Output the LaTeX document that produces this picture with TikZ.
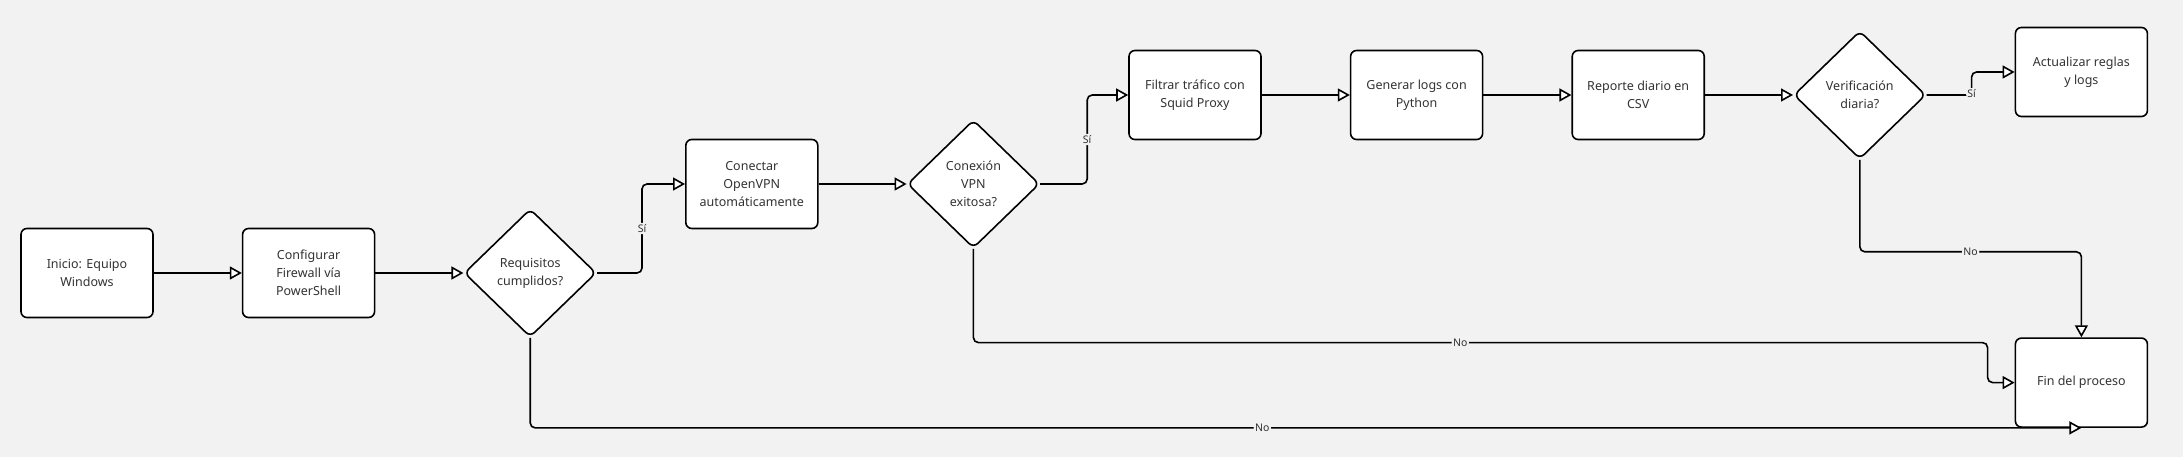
\documentclass[tikz,border=0pt]{standalone}
\usepackage{fontspec}
\setmainfont{Noto Sans}
\usepackage{tikz}
\usetikzlibrary{arrows.meta}
\usetikzlibrary{calc}
\usetikzlibrary{positioning,shapes.geometric}
\definecolor{canvas}{HTML}{F2F2F2}
\definecolor{inkgray}{HTML}{333333}
\tikzset{
    flow box/.style={
        draw,
        fill=white,
        line width=1.6pt,
        rounded corners=6pt,
        align=center,
        minimum width=132pt,
        minimum height=89pt,
        text=inkgray,
        font=\fontsize{12.5}{18}\selectfont
    },
    flow diamond/.style={
        flow box,
        diamond,
        minimum width=132pt,
        minimum height=128pt,
        inner sep=0pt
    },
    flow arrow/.style={
        line width=1.6pt,
        rounded corners=5pt,
        -{Triangle[open,fill=white,length=12pt,width=13pt]}
    },
    edge label/.style={
        fill=canvas,
        inner sep=1.5pt,
        text=inkgray,
        font=\fontsize{10.5}{12}\selectfont
    }
}
\begin{document}
\begin{tikzpicture}[x=1pt,y=1pt,node distance=88pt]
            \fill[canvas] (0,0) rectangle (2183,457);
            \useasboundingbox (0,0) rectangle (2183,457);
            \node[flow box] (ini) at (87,184) {Inicio: Equipo\\Windows};
            \node[flow box,right=of ini] (cfg) {Configurar\\Firewall vía\\PowerShell};
            \node[flow diamond,right=of cfg] (req) {Requisitos\\cumplidos?};
            \node[flow box,right=of req,yshift=89pt] (con) {Conectar\\OpenVPN\\automáticamente};
            \node[flow diamond,right=of con] (vpn) {Conexión\\VPN\\exitosa?};
            \node[flow box,right=of vpn,yshift=89pt] (fil) {Filtrar tráfico con\\Squid Proxy};
            \node[flow box,right=of fil] (gen) {Generar logs con\\Python};
            \node[flow box,right=of gen] (rep) {Reporte diario en\\CSV};
            \node[flow diamond,right=of rep] (ver) {Verificación\\diaria?};
            \node[flow box,right=of ver,yshift=23pt] (act) {Actualizar reglas\\y logs};
            \node[flow box,below=220pt of act] (fin) {Fin del proceso};
            \foreach \s/\t in {ini/cfg,cfg/req,con/vpn,fil/gen,gen/rep,rep/ver}
              \draw[flow arrow] (\s) -- (\t);
            % Si branches
            \draw[flow arrow] (req.east) -- ++(45,0) |- node[edge label,pos=0.25] {Sí} (con.west);
            \draw[flow arrow] (vpn.east) -- ++(47,0) |- node[edge label,pos=0.25] {Sí} (fil.west);
            \draw[flow arrow] (ver.east) -- ++(45,0) |- node[edge label,pos=0.03] {Sí} (act.west);
            % No branches
            \draw[flow arrow] (ver.south) -- ++(0,-92) -| node[edge label,pos=0.25] {No} (fin.north);
            \draw[flow arrow] (vpn.south) |- node[edge label,pos=0.74] {No} ($(fin.west)+(-27,40)$) |- (fin.west);
            \draw[flow arrow] (req.south) |- node[edge label,pos=0.736] {No} (fin.south);
\end{tikzpicture}
\end{document}
